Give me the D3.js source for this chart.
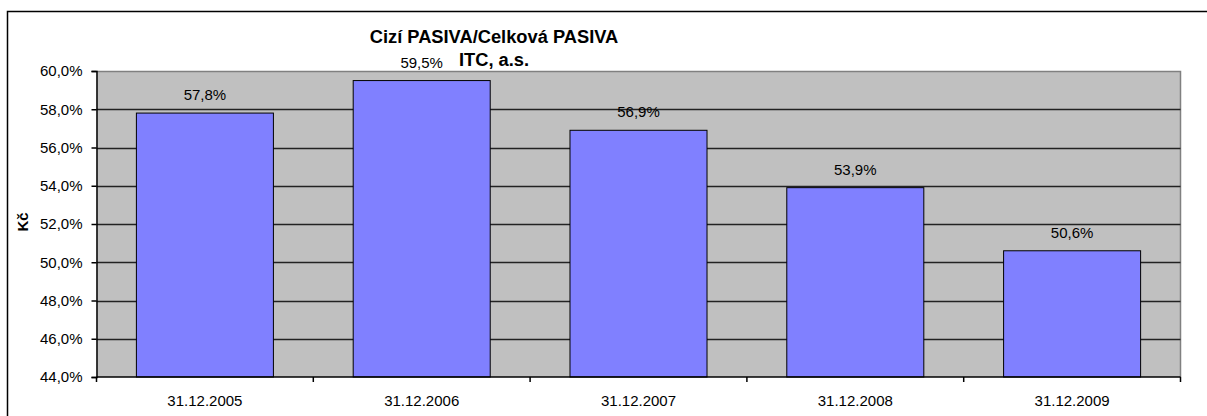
<!DOCTYPE html>
<html>
<head>
<meta charset="utf-8">
<script src="https://cdnjs.cloudflare.com/ajax/libs/d3/7.8.5/d3.min.js"></script>
<style>
  body { margin: 0; background: #fff; }
  text { font-family: Arial, "Liberation Sans", sans-serif; fill: #000; }
</style>
</head>
<body>
<svg id="chart" width="1207" height="416"></svg>
<script>
// data
var categories = ["31.12.2005", "31.12.2006", "31.12.2007", "31.12.2008", "31.12.2009"]
var values = [57.8, 59.5, 56.9, 53.9, 50.6]
var yTicks = [44, 46, 48, 50, 52, 54, 56, 58, 60]
var titleLines = ["Cizí PASIVA/Celková PASIVA", "ITC, a.s."]
var yTitle = "Kč"

var svg = d3.select("#chart")

// plot area
var plotLeft = 96.5, plotRight = 1180.5, plotTop = 71, plotBottom = 377

// outer chart border (runs off the right and bottom edges)
svg.append("rect")
   .attr("x", 7.5).attr("y", 11.5)
   .attr("width", 1220).attr("height", 420)
   .attr("fill", "none").attr("stroke", "#000").attr("stroke-width", 1.5)

var xScale = d3.scaleBand().domain(categories).range([plotLeft, plotRight]).padding(0)
var yScale = d3.scaleLinear().domain([44, 60]).range([plotBottom, plotTop])

var fmt = function(v) { return d3.format(".1f")(v).replace(".", ",") + "%" }

// gray background
svg.append("rect")
   .attr("x", plotLeft).attr("y", plotTop)
   .attr("width", plotRight - plotLeft).attr("height", plotBottom - plotTop)
   .attr("fill", "#C0C0C0")

// top + right border of plot area
svg.append("path")
   .attr("d", "M" + plotLeft + "," + (plotTop + 0.5) + "H" + plotRight + "V" + plotBottom)
   .attr("fill", "none").attr("stroke", "#808080").attr("stroke-width", 1.5)

// gridlines
svg.selectAll(".grid")
   .data(yTicks.filter(function(t) { return t > 44 && t < 60 }))
   .enter().append("line")
   .attr("class", "grid")
   .attr("x1", plotLeft).attr("x2", plotRight)
   .attr("y1", function(d) { return Math.round(yScale(d)) + 0.5 })
   .attr("y2", function(d) { return Math.round(yScale(d)) + 0.5 })
   .attr("stroke", "#222").attr("stroke-width", 1.5)

// bars
var barW = xScale.bandwidth() * 0.632
svg.selectAll(".bar")
   .data(values)
   .enter().append("rect")
   .attr("class", "bar")
   .attr("x", function(d, i) { return xScale(categories[i]) + (xScale.bandwidth() - barW) / 2 })
   .attr("y", function(d) { return yScale(d) })
   .attr("width", barW)
   .attr("height", function(d) { return plotBottom - yScale(d) })
   .attr("fill", "#8080FF").attr("stroke", "#000").attr("stroke-width", 1)

// data labels
svg.selectAll(".lbl")
   .data(values)
   .enter().append("text")
   .attr("class", "lbl")
   .attr("x", function(d, i) { return xScale(categories[i]) + xScale.bandwidth() / 2 })
   .attr("y", function(d) { return yScale(d) - 13 })
   .attr("text-anchor", "middle")
   .style("font-size", "15px")
   .text(fmt)

// y axis
var yAxis = svg.append("g")
   .attr("transform", "translate(" + plotLeft + ",0)")
   .call(d3.axisLeft(yScale).tickValues(yTicks).tickFormat(fmt).tickSize(5).tickPadding(9))
yAxis.selectAll("text").style("font-size", "15px").attr("fill", "#000")
yAxis.selectAll("line").attr("stroke", "#000").attr("stroke-width", 1.5)
yAxis.select(".domain").attr("stroke", "#000").attr("stroke-width", 1.5)

// x axis: ticks at category boundaries
var boundaries = categories.map(function(c) { return xScale(c) }).concat([plotRight])
var xAxis = svg.append("g").attr("transform", "translate(0," + plotBottom + ")")
xAxis.append("line")
     .attr("x1", plotLeft).attr("x2", plotRight)
     .attr("stroke", "#000").attr("stroke-width", 1.5)
xAxis.selectAll(".xt")
     .data(boundaries)
     .enter().append("line")
     .attr("class", "xt")
     .attr("x1", function(d) { return d }).attr("x2", function(d) { return d })
     .attr("y1", 0).attr("y2", 5)
     .attr("stroke", "#000").attr("stroke-width", 1.5)
xAxis.selectAll(".xl")
     .data(categories)
     .enter().append("text")
     .attr("class", "xl")
     .attr("x", function(d) { return xScale(d) + xScale.bandwidth() / 2 })
     .attr("y", 29)
     .attr("text-anchor", "middle")
     .style("font-size", "15px")
     .text(function(d) { return d })

// title
svg.selectAll(".title")
   .data(titleLines)
   .enter().append("text")
   .attr("class", "title")
   .attr("x", 494)
   .attr("y", function(d, i) { return 43 + i * 23 })
   .attr("text-anchor", "middle")
   .style("font-size", "18.3px").style("font-weight", "bold")
   .text(function(d) { return d })

// y axis title
svg.append("text")
   .attr("transform", "translate(28,222) rotate(-90)")
   .attr("text-anchor", "middle")
   .style("font-size", "15px").style("font-weight", "bold")
   .text(yTitle)
</script>
</body>
</html>
